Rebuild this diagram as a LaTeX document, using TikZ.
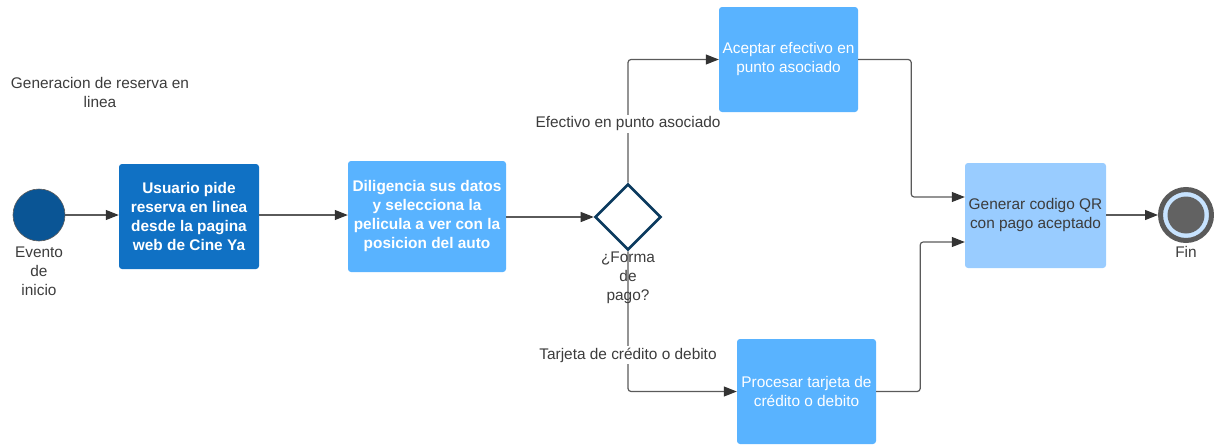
\documentclass[tikz,border=0pt]{standalone}
\usepackage{fontspec}
\setmainfont{Liberation Sans}
\usetikzlibrary{shapes.geometric,arrows.meta}
\definecolor{darkblue}{HTML}{0A5595}
\definecolor{midblue}{HTML}{1071C4}
\definecolor{skyblue}{HTML}{59B3FF}
\definecolor{paleblue}{HTML}{99CCFF}
\definecolor{linegrey}{HTML}{5A5A5A}
\definecolor{tipgrey}{HTML}{333333}
\definecolor{txtgrey}{HTML}{3C3C3C}
\definecolor{diaborder}{HTML}{0B3A5E}
\tikzset{
  every node/.style={font=\fontsize{15.4}{19}\selectfont},
  box/.style={rectangle, rounded corners=3pt, align=center, inner sep=2pt},
  bluebox/.style={box, fill=skyblue, text=white},
  arr/.style={draw=linegrey, line width=1.2pt, rounded corners=3pt, -{Triangle[length=13pt,width=10pt,color=tipgrey]}},
  lab/.style={text=txtgrey, align=center},
}
\begin{document}
\begin{tikzpicture}[x=1pt,y=-1pt]
\useasboundingbox (0,0) rectangle (1214,447);
% title
\node[lab] (title) at (100,92.5) {Generacion de reserva en\\linea};
% start event
\node[circle, fill=darkblue, draw=linegrey, line width=0.6pt, minimum size=52pt, inner sep=0pt] (start) at (39,215) {};
\node[lab] (startlab) at (39,271) {Evento\\de\\inicio};
% boxes
\node[box, fill=midblue, text=white, font=\fontsize{15.4}{19}\selectfont\bfseries, minimum width=140pt, minimum height=105pt] (b1) at (189,216.5) {Usuario pide\\reserva en linea\\desde la pagina\\web de Cine Ya};
\node[bluebox, font=\fontsize{15.4}{19}\selectfont\bfseries, minimum width=158pt, minimum height=111pt] (b2) at (427,216.5) {Diligencia sus datos\\y selecciona la\\pelicula a ver con la\\posicion del auto};
\node[diamond, draw=diaborder, line width=2.6pt, fill=white, minimum width=66pt, minimum height=66pt, inner sep=0pt] (dia) at (628,217) {};
\node[bluebox, minimum width=139pt, minimum height=105pt] (b3) at (788.5,59.5) {Aceptar efectivo en\\punto asociado};
\node[bluebox, minimum width=139pt, minimum height=105pt] (b4) at (806.5,391.5) {Procesar tarjeta de\\crédito o debito};
\node[box, fill=paleblue, text=txtgrey, minimum width=141pt, minimum height=105pt] (b5) at (1035.5,215.5) {Generar codigo QR\\con pago aceptado};
% end event
\node[circle, fill=paleblue!55, draw=linegrey, line width=5pt, minimum size=51pt, inner sep=0pt] (fin) at (1186,215) {};
\node[circle, fill=linegrey!95, minimum size=37pt, inner sep=0pt] (fincore) at (fin.center) {};
% connectors
\draw[arr] (start.east) -- (start.east -| b1.west);
\draw[arr] (b1.east |- start.east) -- (start.east -| b2.west);
\draw[arr] (b2.east |- dia.west) -- (dia.west);
\draw[arr] (dia.north) |- (b3.west);
\draw[arr] (dia.south) |- (b4.west);
\draw[arr] (b3.east) -- ++(53,0) |- ([yshift=18.5pt]b5.west);
\draw[arr] (b4.east) -- ++(44,0) |- ([yshift=-26.5pt]b5.west);
\draw[arr] (b5.east |- fin.west) -- (fin.west);
% labels
\node[lab, fill=white, inner sep=2pt] (lef) at (628,124) {Efectivo en punto asociado};
\node[lab, fill=white, inner sep=2pt] (ltar) at (628,355) {Tarjeta de crédito o debito};
\node[lab] (dialab) at (628,278) {¿Forma\\de\\pago?};
\node[lab] (finlab) at (1186,252) {Fin};
\end{tikzpicture}
\end{document}
